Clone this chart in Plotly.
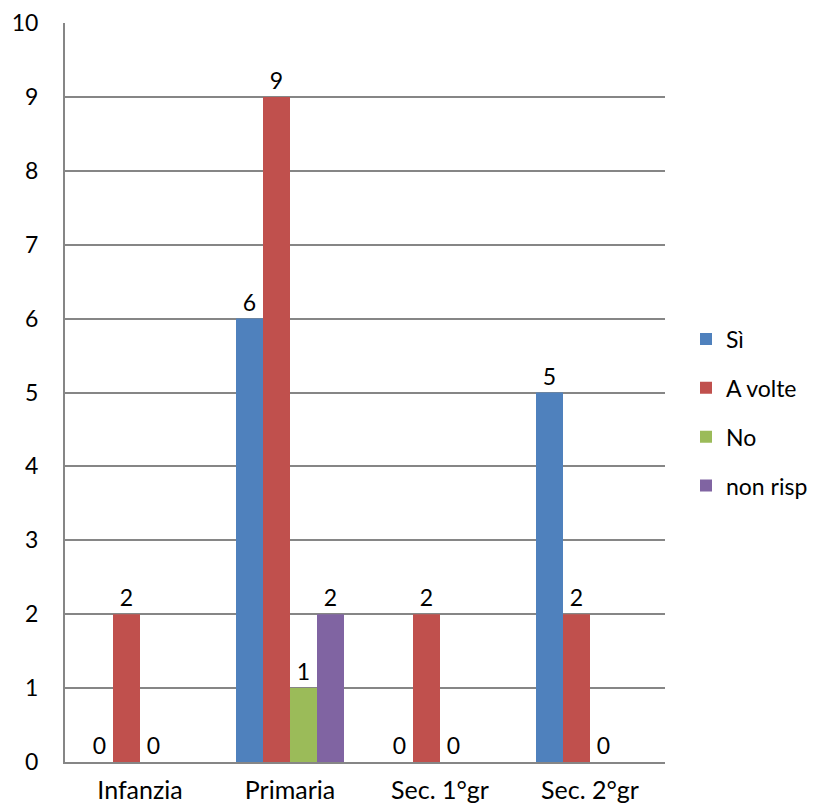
import plotly.graph_objects as go

categories = ["Infanzia", "Primaria", "Sec. 1°gr", "Sec. 2°gr"]
si = [0, 6, 0, 5]
a_volte = [2, 9, 2, 2]
no = [0, 1, 0, 0]
non_risp = [None, 2, None, None]

series = [
    ("Sì", si, "#4F81BD"),
    ("A volte", a_volte, "#C0504D"),
    ("No", no, "#9BBB59"),
    ("non risp", non_risp, "#8064A2"),
]

FONT = "Lato, Carlito, Calibri, sans-serif"
FS = 23

fig = go.Figure()
for i, (name, vals, color) in enumerate(series):
    fig.add_trace(go.Bar(
        x=categories, y=vals, name=name,
        marker=dict(color=color, line=dict(width=0)),
        text=[("" if v is None else str(v)) for v in vals],
        textposition="outside", cliponaxis=False,
        textfont=dict(family=FONT, size=FS, color="black"),
        legendgroup=f"g{i}",
    ))

fig.update_layout(
    width=810, height=803,
    margin=dict(l=57, r=153, t=15, b=49, autoexpand=False),
    paper_bgcolor="white", plot_bgcolor="white",
    barmode="group", bargap=0.28, bargroupgap=0,
    font=dict(family=FONT, size=FS, color="black"),
    showlegend=True,
    legend=dict(x=1.035, y=0.473, xanchor="left", yanchor="middle",
                tracegroupgap=16, font=dict(family=FONT, size=23),
                itemwidth=30),
    xaxis=dict(showline=True, linecolor="#868686", linewidth=2,
               ticks="", showgrid=False, ticklabelstandoff=5,
               automargin=False, tickfont=dict(size=25)),
    yaxis=dict(range=[0, 10], dtick=1, showgrid=True, gridcolor="#868686",
               gridwidth=1.5, showline=True, linecolor="#868686", linewidth=2,
               ticks="", zeroline=False, ticklabelstandoff=20,
               automargin=False),
)

fig.write_html("out.html")
